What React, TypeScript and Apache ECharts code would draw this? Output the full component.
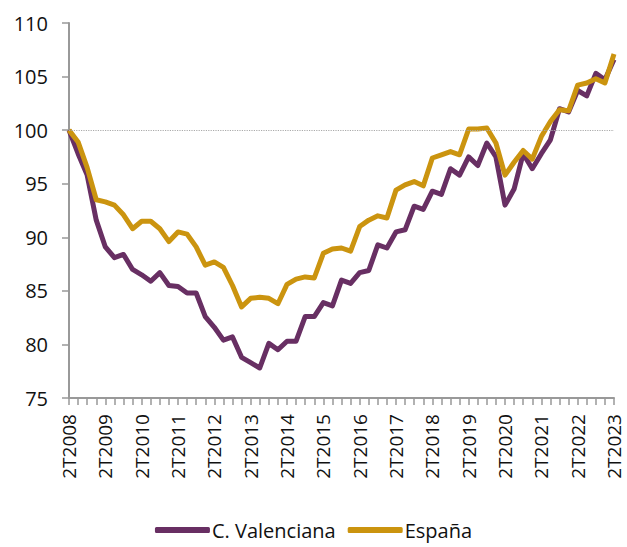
import React, { useEffect, useRef } from "react";
import * as echarts from "echarts";

const quarters: string[] = (() => {
  const out: string[] = [];
  for (let y = 2008; y <= 2023; y++) {
    for (let q = 1; q <= 4; q++) {
      if (y === 2008 && q < 2) continue;
      if (y === 2023 && q > 2) continue;
      out.push(`${q}T${y}`);
    }
  }
  return out;
})();

const valencia: number[] = [
  100, 97.8, 95.8, 91.6, 89.1, 88.1, 88.4, 87.0, 86.5, 85.9,
  86.7, 85.5, 85.4, 84.8, 84.8, 82.6, 81.6, 80.4, 80.7, 78.8,
  78.3, 77.8, 80.1, 79.5, 80.3, 80.3, 82.6, 82.6, 83.9, 83.6,
  86.0, 85.7, 86.7, 86.9, 89.3, 89.0, 90.5, 90.7, 92.9, 92.6,
  94.3, 94.0, 96.4, 95.8, 97.5, 96.7, 98.8, 97.5, 93.0, 94.5,
  97.8, 96.4, 97.8, 99.1, 102.0, 101.7, 103.7, 103.2, 105.3, 104.7,
  106.6,
];

const espana: number[] = [
  100, 98.9, 96.5, 93.5, 93.3, 93.0, 92.1, 90.8, 91.5, 91.5,
  90.8, 89.6, 90.5, 90.3, 89.1, 87.4, 87.7, 87.2, 85.5, 83.5,
  84.3, 84.4, 84.3, 83.8, 85.6, 86.1, 86.3, 86.2, 88.5, 88.9,
  89.0, 88.7, 91.0, 91.6, 92.0, 91.8, 94.4, 94.9, 95.2, 94.8,
  97.4, 97.7, 98.0, 97.7, 100.1, 100.1, 100.2, 98.8, 95.8, 97.0,
  98.1, 97.3, 99.4, 100.8, 101.9, 101.8, 104.2, 104.4, 104.8, 104.4,
  107.1,
];

const seriesNames = ["C. Valenciana", "España"];
const colors = ["#682F63", "#CB940F"];
const refValue = 100;

export default function App() {
  const ref = useRef<HTMLDivElement>(null);
  useEffect(() => {
    if (!ref.current) return;
    const chart = echarts.init(ref.current, null, { renderer: "svg" });
    const font = "'Open Sans', 'Segoe UI', sans-serif";
    chart.setOption({
      animation: false,
      textStyle: { fontFamily: font },
      grid: { left: 69, right: 13, top: 23, bottom: 149 },
      legend: {
        data: seriesNames,
        left: "center",
        top: 515,
        icon: "roundRect",
        itemWidth: 55,
        itemHeight: 6,
        itemGap: 12,
        textStyle: { fontSize: 20, color: "#111", fontFamily: font, padding: [0, 0, 0, -3] },
      },
      xAxis: {
        type: "category",
        data: quarters,
        boundaryGap: false,
        axisLine: { lineStyle: { color: "#999", width: 2 } },
        axisTick: { show: true, interval: 0, length: 7, lineStyle: { color: "#999", width: 1.5 } },
        axisLabel: {
          interval: 3,
          rotate: 90,
          fontSize: 19,
          color: "#111",
          margin: 16,
          fontFamily: font,
        },
        splitLine: { show: false },
      },
      yAxis: {
        type: "value",
        min: 75,
        max: 110,
        interval: 5,
        axisLine: { show: true, lineStyle: { color: "#999", width: 2 } },
        axisTick: { show: true, length: 7, lineStyle: { color: "#999", width: 1.5 } },
        axisLabel: { fontSize: 20, color: "#111", margin: 21, fontFamily: font },
        splitLine: { show: false },
      },
      series: [
        {
          name: seriesNames[0],
          type: "line",
          data: valencia,
          symbol: "none",
          lineStyle: { color: colors[0], width: 5, join: "round" },
          itemStyle: { color: colors[0] },
          markLine: {
            silent: true,
            symbol: "none",
            label: { show: false },
            lineStyle: { color: "#aaa", type: "dotted", width: 1.2 },
            data: [{ yAxis: refValue }],
          },
          z: 2,
        },
        {
          name: seriesNames[1],
          type: "line",
          data: espana,
          symbol: "none",
          lineStyle: { color: colors[1], width: 5, join: "round" },
          itemStyle: { color: colors[1] },
          z: 3,
        },
      ],
    });
    return () => chart.dispose();
  }, []);
  return (
    <div
      ref={ref}
      style={{ position: "absolute", left: 0, top: 0, width: 627, height: 547 }}
    />
  );
}
